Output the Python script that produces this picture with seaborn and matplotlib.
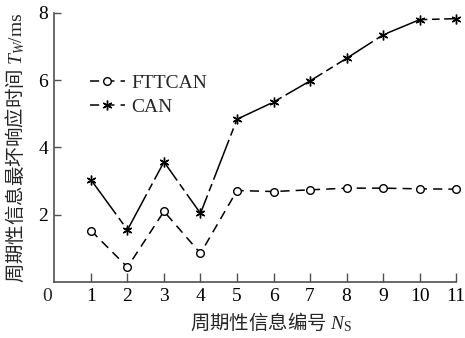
import matplotlib
matplotlib.use("Agg")
import matplotlib.pyplot as plt
from matplotlib.lines import Line2D
import seaborn as sns
import pandas as pd

# Periodic message index and worst-case response times (ms)
msg_ids = [1, 2, 3, 4, 5, 6, 7, 8, 9, 10, 11]
fttcan_ms = [1.53, 0.44, 2.10, 0.85, 2.72, 2.69, 2.74, 2.79, 2.79, 2.77, 2.76]
can_ms = [3.04, 1.55, 3.57, 2.04, 4.84, 5.35, 5.98, 6.65, 7.35, 7.80, 7.83]
series_names = ["FTTCAN", "CAN"]
x_ticks = [1, 2, 3, 4, 5, 6, 7, 8, 9, 10, 11]
y_ticks = [2, 4, 6, 8]

sns.set_theme(style="ticks")
plt.rcParams["font.family"] = ["Liberation Serif", "Noto Sans CJK SC"]
plt.rcParams["mathtext.fontset"] = "custom"
plt.rcParams["mathtext.rm"] = "Liberation Serif"
plt.rcParams["mathtext.it"] = "Liberation Serif:italic"
plt.rcParams["axes.unicode_minus"] = False

df_ftt = pd.DataFrame({"id": msg_ids, "t": fttcan_ms})
df_can = pd.DataFrame({"id": msg_ids, "t": can_ms})

fig = plt.figure(figsize=(4.65, 3.38), dpi=100)
ax = fig.add_axes([0.117, 0.1657, 0.864, 0.796])

can_marker = (6, 2, 0)

sns.lineplot(data=df_ftt, x="id", y="t", ax=ax, color="black", linewidth=1.1,
             linestyle=(0, (6, 4)), marker="o", markersize=5.5,
             markerfacecolor="white", markeredgecolor="black",
             markeredgewidth=1.0, clip_on=False)
sns.lineplot(data=df_can, x="id", y="t", ax=ax, color="black", linewidth=1.1,
             linestyle=(0, (28, 3, 5, 3)), marker=can_marker, markersize=7,
             markeredgecolor="black", markeredgewidth=1.0, clip_on=False)

ax.set_xlim(0, 11)
ax.set_ylim(0, 8)
ax.set_xticks(x_ticks)
ax.set_xticklabels([str(v) for v in x_ticks])
ax.set_yticks(y_ticks)
ax.set_yticklabels([str(v) for v in y_ticks])

for side in ("top", "right"):
    ax.spines[side].set_visible(False)
for side in ("left", "bottom"):
    ax.spines[side].set_color("#505050")
    ax.spines[side].set_linewidth(1.2)

ax.tick_params(axis="x", direction="in", length=6.5, width=1.0, color="#505050",
               pad=4, labelsize=14, labelcolor="black")
ax.tick_params(axis="y", direction="in", length=5, width=1.0, color="#505050",
               pad=4.5, labelsize=14, labelcolor="black")

# shared origin label
ax.annotate("0", xy=(0, 0), xycoords="data", xytext=(-2, -4), textcoords="offset points",
            ha="right", va="top", fontsize=14)

# axis titles: CJK text in Noto, symbols and units through mathtext (Liberation Serif)
cjk = ["Noto Sans CJK SC"]
ax.set_xlabel("周期性信息编号 $N_\\mathrm{S}$", fontsize=14, family=cjk)
ax.xaxis.set_label_coords(0.539, -0.108)
ax.set_ylabel("周期性信息最坏响应时间 $T_W\\mathrm{/ms}$", fontsize=14, family=cjk)
ax.yaxis.set_label_coords(-0.068, 0.5)

handles = [
    Line2D([], [], color="black", linewidth=1.1, linestyle=(0, (6, 4)), marker="o",
           markersize=5.5, markerfacecolor="white", markeredgecolor="black",
           markeredgewidth=1.0),
    Line2D([], [], color="black", linewidth=1.1, linestyle=(0, (6, 4)), marker=can_marker,
           markersize=7, markeredgecolor="black", markeredgewidth=1.0),
]
ax.legend(handles, series_names, loc="center left", bbox_to_anchor=(0.088, 0.695),
          frameon=False, fontsize=14, handlelength=1.8, handletextpad=0.35,
          labelspacing=0.3, borderpad=0, borderaxespad=0)

fig.savefig("out.png", dpi=100)
